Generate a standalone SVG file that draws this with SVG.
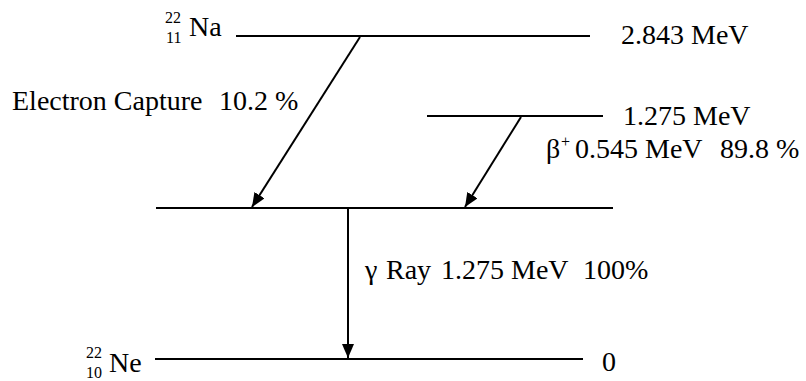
<svg xmlns="http://www.w3.org/2000/svg" width="806" height="381" viewBox="0 0 806 381">
<style>
.t{font-size:28px}
.s{font-size:16px}
.lvl{stroke:#000;stroke-width:2;fill:none}
.arr{stroke:#000;stroke-width:2;fill:none;marker-end:url(#ah)}
</style>
<defs>
<marker id="ah" viewBox="0 -6 14 12" refX="14" refY="0" markerWidth="14" markerHeight="12" markerUnits="userSpaceOnUse" orient="auto">
<path d="M0,-6 L14,0 L0,6 z" fill="#000"/>
</marker>
</defs>
<rect width="806" height="381" fill="#fff"/>
<g id="na22">
<line class="lvl" x1="236" y1="36" x2="590" y2="36"/>
<text class="s" font-family="Liberation Serif, serif" x="165" y="23">22</text>
<text class="s" font-family="Liberation Serif, serif" x="166" y="43">11</text>
<text class="t" font-family="Liberation Serif, serif" x="189" y="36">Na</text>
<text class="t" font-family="Liberation Serif, serif" x="621" y="44">2.843 MeV</text>
</g>
<g id="level1275">
<line class="lvl" x1="427" y1="116" x2="603" y2="116"/>
<text class="t" font-family="Liberation Serif, serif" x="623" y="125">1.275 MeV</text>
</g>
<g id="ne22excited">
<line class="lvl" x1="156" y1="208" x2="613" y2="208"/>
</g>
<g id="ne22">
<line class="lvl" x1="155" y1="359" x2="583" y2="359"/>
<text class="s" font-family="Liberation Serif, serif" x="86" y="358">22</text>
<text class="s" font-family="Liberation Serif, serif" x="86" y="378">10</text>
<text class="t" font-family="Liberation Serif, serif" x="109" y="372">Ne</text>
<text class="t" font-family="Liberation Serif, serif" x="602" y="371">0</text>
</g>
<g id="connectors">
<line class="arr" x1="360" y1="37" x2="252" y2="207"/>
<line class="arr" x1="521" y1="117" x2="465" y2="207"/>
<line class="arr" x1="348" y1="209" x2="348" y2="358"/>
</g>
<g id="labels">
<text class="t" font-family="Liberation Serif, serif" x="12" y="110">Electron Capture<tspan x="219">10.2 %</tspan></text>
<text class="t" font-family="Liberation Serif, serif" x="546" y="158">β<tspan class="s" x="561" dy="-11">+</tspan><tspan x="575" dy="11">0.545 MeV</tspan><tspan x="720">89.8 %</tspan></text>
<text class="t" font-family="Liberation Serif, serif" x="365" y="279">γ<tspan x="386">Ray</tspan><tspan x="441">1.275 MeV</tspan><tspan x="583">100%</tspan></text>
</g>
</svg>
